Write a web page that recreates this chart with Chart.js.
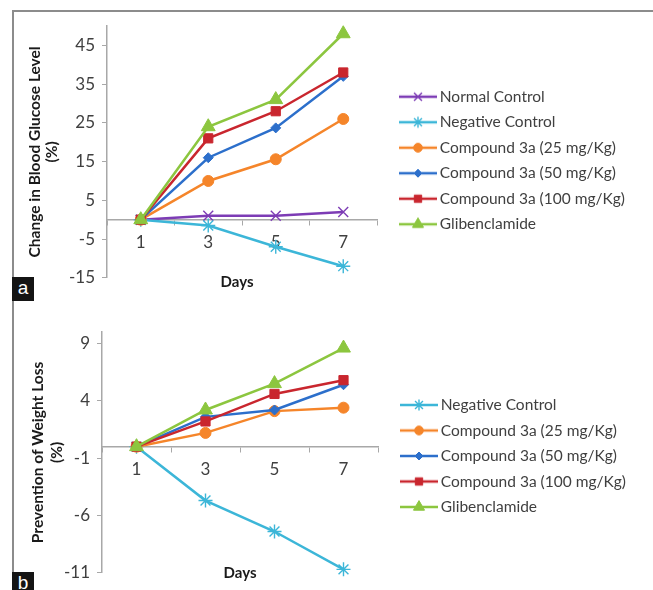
<!DOCTYPE html>
<html>
<head>
<meta charset="utf-8">
<script src="https://cdn.jsdelivr.net/npm/chart.js@4.4.1/dist/chart.umd.min.js"></script>
<style>
  html, body { margin: 0; padding: 0; background: #fff; }
  #page { position: relative; width: 653px; height: 590px; overflow: hidden; font-family: Lato, sans-serif; }
  #frame { position: absolute; left: 12px; top: 10px; width: 650px; height: 600px;
           border-left: 2px solid #8c8c8c; border-top: 2px solid #8c8c8c; }
  canvas { position: absolute; left: 0; }
  .tag { position: absolute; left: 12px; width: 22px; height: 24px; background: #141414; color: #fff;
         font: 19px "Liberation Sans", Arial, sans-serif; text-align: center; line-height: 22px; }
  .days { position: absolute; width: 100px; text-align: center; font: bold 15px Lato, sans-serif; color: #1a1a1a; }
</style>
</head>
<body>
<div id="page">
  <div id="frame"></div>
  <canvas id="glucoseChart" width="653" height="295" style="top:0"></canvas>
  <canvas id="weightChart" width="653" height="295" style="top:295px"></canvas>
  <div class="days" style="left:187px;top:272px">Days</div>
  <div class="days" style="left:190px;top:563px">Days</div>
  <div class="tag" style="top:277px">a</div>
  <div class="tag" style="top:572px">b</div>
</div>
<script>
/* Blood glucose / weight loss line charts, two panels */

const days = ['1', '3', '5', '7'];

// panel a - change in blood glucose level (%)
const glucoseNormal   = [0, 1, 1, 2];
const glucoseNegative = [0, -1.5, -7, -12];
const glucose25       = [0, 10, 15.6, 26];
const glucose50       = [0, 16, 23.7, 37];
const glucose100      = [0, 21, 28, 38];
const glucoseGlib     = [0, 24, 31, 48];
const glucoseTicks    = [-15, -5, 5, 15, 25, 35, 45];

// panel b - prevention of weight loss (%)
const weightNegative = [0, -4.7, -7.4, -10.7];
const weight25       = [0, 1.2, 3.1, 3.4];
const weight50       = [0, 2.6, 3.2, 5.4];
const weight100      = [0, 2.2, 4.6, 5.8];
const weightGlib     = [0, 3.2, 5.5, 8.6];
const weightTicks    = [-11, -6, -1, 4, 9];

const STYLES = {
    normal:   { color: '#7d3cb5', point: 'crossRot', radius: 7, border: 1.4 },
    negative: { color: '#3cb6d8', point: 'star',     radius: 7, border: 1.4 },
    c25:      { color: '#f5852a', point: 'circle',   radius: 5.5, border: 1 },
    c50:      { color: '#2c6fcb', point: 'rectRot',  radius: 5, border: 1 },
    c100:     { color: '#c9262e', point: 'rect',     radius: 6.5, border: 1 },
    glib:     { color: '#8cc63f', point: 'triangle', radius: 8, border: 1 },
};

const AXIS = '#a8a8a8';
const TEXT = '#404040';

function makeSet(label, data, st, idx, count) {
    return {
        label,
        data,
        borderColor: st.color,
        backgroundColor: st.color,
        borderWidth: 2.5,
        pointStyle: st.point,
        pointRadius: st.radius,
        pointBorderWidth: st.border,
        pointBackgroundColor: st.color,
        pointBorderColor: st.color,
        tension: 0,
        clip: false,
        order: count - idx, // later series on top, like the original
        _style: st,
    };
}

// legend sample: short line with the marker in the middle
function legendSample(st) {
    const c = document.createElement('canvas');
    c.width = 55; c.height = 18;
    const ctx = c.getContext('2d');
    ctx.strokeStyle = st.color;
    ctx.fillStyle = st.color;
    ctx.lineWidth = 2.5;
    ctx.beginPath();
    ctx.moveTo(17, 9);
    ctx.lineTo(55, 9);
    ctx.stroke();
    ctx.lineWidth = st.border;
    Chart.helpers.drawPoint(ctx, { pointStyle: st.point, radius: st.radius * 0.8, rotation: 0, borderWidth: st.border }, 36, 9);
    return c;
}

function buildChart(canvasId, sets, o) {
    const chart = new Chart(document.getElementById(canvasId), {
        type: 'line',
        data: { labels: days, datasets: sets },
        options: {
            responsive: false,
            animation: false,
            layout: { padding: { top: o.top, right: 30, bottom: o.bottom, left: 0 } },
            plugins: {
                tooltip: { enabled: false },
                legend: {
                    position: 'right',
                    align: 'center',
                    maxWidth: 320,
                    labels: {
                        usePointStyle: true,
                        pointStyleWidth: 45,
                        boxHeight: 15,
                        padding: 10,
                        color: TEXT,
                        font: { family: 'Lato', size: 15.5 },
                        generateLabels: (ch) => ch.data.datasets.map((ds, i) => ({
                            text: ds.label,
                            fontColor: TEXT,
                            pointStyle: legendSample(ds._style),
                            fillStyle: ds.borderColor,
                            strokeStyle: ds.borderColor,
                            lineWidth: 0,
                            hidden: false,
                            datasetIndex: i,
                        })),
                    },
                },
            },
            scales: {
                x: {
                    type: 'category',
                    offset: true,
                    position: { y: 0 },
                    grid: { drawOnChartArea: false, drawTicks: true, tickLength: 5, offset: true, color: AXIS },
                    border: { color: AXIS, width: 1.5 },
                    ticks: { color: TEXT, padding: 8, font: { family: 'Lato', size: 17 } },
                    afterFit: (s) => { s.height = o.xHeight; },
                },
                y: {
                    min: o.min,
                    max: o.max,
                    grid: { drawOnChartArea: false, drawTicks: true, tickLength: 5, color: AXIS },
                    border: { color: AXIS, width: 1.5 },
                    ticks: { color: TEXT, padding: 7, font: { family: 'Lato', size: 17 } },
                    afterBuildTicks: (s) => { s.ticks = o.ticks.map(v => ({ value: v })); },
                    afterFit: (s) => { s.width = o.yWidth; },
                    title: {
                        display: true,
                        text: o.title,
                        color: '#1a1a1a',
                        font: { family: 'Lato', size: 15.5, weight: 'bold', lineHeight: o.titleLine },
                        padding: { top: o.titlePad, bottom: 0 },
                    },
                },
            },
        },
    });
    // push the legend so the plot ends where the original's does
    const diff = o.right - chart.chartArea.right;
    chart.options.layout.padding = { top: o.top, right: 30 - diff, bottom: o.bottom, left: 0 };
    chart.update();
    return chart;
}

const glucoseSets = [
    ['Normal Control', glucoseNormal, STYLES.normal],
    ['Negative Control', glucoseNegative, STYLES.negative],
    ['Compound 3a (25 mg/Kg)', glucose25, STYLES.c25],
    ['Compound 3a (50 mg/Kg)', glucose50, STYLES.c50],
    ['Compound 3a (100 mg/Kg)', glucose100, STYLES.c100],
    ['Glibenclamide', glucoseGlib, STYLES.glib],
].map((s, i, all) => makeSet(s[0], s[1], s[2], i, all.length));

const weightSets = [
    ['Negative Control', weightNegative, STYLES.negative],
    ['Compound 3a (25 mg/Kg)', weight25, STYLES.c25],
    ['Compound 3a (50 mg/Kg)', weight50, STYLES.c50],
    ['Compound 3a (100 mg/Kg)', weight100, STYLES.c100],
    ['Glibenclamide', weightGlib, STYLES.glib],
].map((s, i, all) => makeSet(s[0], s[1], s[2], i, all.length));

buildChart('glucoseChart', glucoseSets, {
    min: -15, max: 50, ticks: glucoseTicks,
    top: 26, bottom: 0, xHeight: 21, yWidth: 107, right: 377,
    title: ['Change in Blood Glucose Level', '(%)'], titleLine: 1.1, titlePad: 26.5,
});

buildChart('weightChart', weightSets, {
    min: -11, max: 10, ticks: weightTicks,
    top: 37, bottom: 10, xHeight: 23, yWidth: 102, right: 378,
    title: ['Prevention of Weight Loss', '(%)'], titleLine: 1.25, titlePad: 28,
});
</script>
</body>
</html>
